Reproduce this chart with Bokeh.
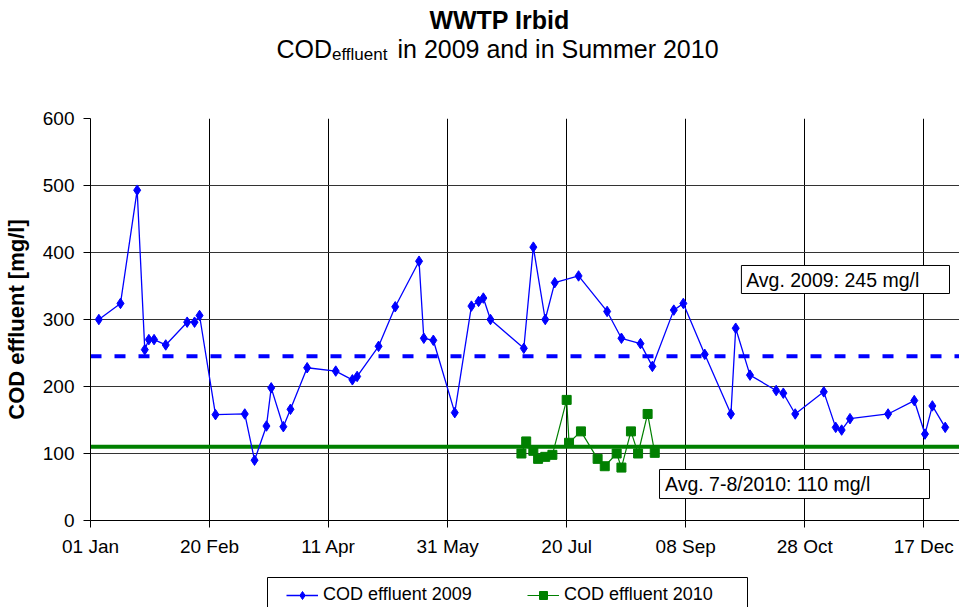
from bokeh.plotting import figure
from bokeh.layouts import column
from bokeh.models import (Range1d, FixedTicker, Label, Legend, LegendItem, Span,
                          BoxAnnotation)
from bokeh.embed import file_html
from bokeh.resources import INLINE

# ---------------- data ----------------
# day of year (0 = 01 Jan)
day_2009 = [3.5, 12.6, 19.6, 22.8, 24.5, 26.7, 31.6, 40.6, 43.7, 45.8, 52.5, 64.8,
            68.9, 73.9, 75.9, 81, 84, 91, 103, 110, 112, 121, 128, 138, 140, 144,
            153, 160, 163, 165, 168, 182, 186, 191, 195, 205, 217, 223, 231, 236,
            245, 249, 258, 269, 271, 277, 288, 291, 296, 308, 313, 315.5, 319, 335,
            346, 350.5, 353.6, 359]
cod_2009 = [300, 324, 493, 255, 270, 270, 262, 296, 296, 306, 158, 159,
            90, 141, 198, 140, 166, 228, 223, 210, 215, 260, 319, 387, 272, 269,
            161, 320, 327, 332, 300, 257, 408, 300, 355, 365, 312, 272, 264, 230,
            314, 324, 248, 159, 287, 217, 194, 190, 159, 192, 139, 135, 152, 159,
            179, 129, 171, 139]

day_2010 = [181, 183, 186, 188, 191, 194, 200, 201, 206, 213, 216, 221, 223,
            227, 230, 234, 237]
cod_2010 = [100, 118, 104, 92, 95, 98, 180, 116, 133, 92, 81, 100, 79,
            133, 100, 159, 101]

avg_2009 = 245
avg_2010 = 110

tick_days = [0, 50, 100, 150, 200, 250, 300, 350]
tick_labels = ["01 Jan", "20 Feb", "11 Apr", "31 May", "20 Jul", "08 Sep",
               "28 Oct", "17 Dec"]
y_ticks = [0, 100, 200, 300, 400, 500, 600]

FONT = "Liberation Sans"
BLUE = "#0000FF"
GREEN = "#008000"
W = 959
LEFT = 90
H_TITLE, H_MAIN, H_LEG = 103, 465, 39


def bare(fig):
    fig.outline_line_color = None
    fig.xgrid.visible = False
    fig.ygrid.visible = False
    fig.background_fill_color = "white"
    fig.border_fill_color = "white"
    fig.title.visible = False


def tlabel(fig, px, py, text, size, style="normal", align="left"):
    # px, py: page pixels from top-left; screen units are frame-relative
    # (x from the frame's left, y up from the frame's bottom)
    fig.add_layout(Label(x=px - LEFT, y=H_TITLE - py, x_units="screen",
                         y_units="screen", text=text, text_font=FONT,
                         text_font_size=size, text_font_style=style,
                         text_align=align, text_baseline="alphabetic",
                         text_color="black"))


# ---------------- title strip ----------------
pt = figure(width=W, height=H_TITLE, output_backend="svg", toolbar_location=None,
            x_range=Range1d(0, 1), y_range=Range1d(0, 1),
            x_axis_location=None, y_axis_location=None,
            min_border=0, min_border_left=LEFT, min_border_right=0,
            min_border_top=0, min_border_bottom=0)
bare(pt)
tlabel(pt, 499, 19, "WWTP Irbid", "25px", style="bold", align="center")
tlabel(pt, 276, 48, "COD", "25px")
tlabel(pt, 331.5, 54, "effluent", "17px")
tlabel(pt, 397, 48, "in 2009 and in Summer 2010", "25px")

# ---------------- main chart ----------------
p = figure(width=W, height=H_MAIN, output_backend="svg", toolbar_location=None,
           x_range=Range1d(0, 365), y_range=Range1d(0, 600),
           min_border_left=LEFT, min_border_right=0, min_border_top=15,
           min_border_bottom=48)
p.outline_line_color = None
p.background_fill_color = "white"
p.border_fill_color = "white"

p.xaxis.ticker = FixedTicker(ticks=tick_days)
p.xaxis.major_label_overrides = {d: l for d, l in zip(tick_days, tick_labels)}
p.yaxis.ticker = FixedTicker(ticks=y_ticks)
for ax in (p.xaxis[0], p.yaxis[0]):
    ax.axis_line_color = "black"
    ax.axis_line_width = 1
    ax.major_tick_line_color = "black"
    ax.major_tick_out = 7
    ax.major_tick_in = 0
    ax.minor_tick_line_color = None
    ax.major_label_text_font = FONT
    ax.major_label_text_font_size = "19px"
    ax.major_label_text_color = "black"
p.xaxis.major_label_standoff = 8
p.yaxis.major_label_standoff = 9
p.yaxis.axis_label = "COD effluent [mg/l]"
p.yaxis.axis_label_text_font = FONT
p.yaxis.axis_label_text_font_style = "bold"
p.yaxis.axis_label_text_font_size = "22px"
p.yaxis.axis_label_text_color = "black"
p.yaxis.axis_label_standoff = 11

p.xgrid.ticker = FixedTicker(ticks=tick_days)
p.ygrid.ticker = FixedTicker(ticks=y_ticks)
p.xgrid.grid_line_color = "black"
p.ygrid.grid_line_color = "#333333"
p.xgrid.grid_line_width = 1
p.ygrid.grid_line_width = 1

p.add_layout(Span(location=avg_2009, dimension="width", line_color=BLUE,
                  line_width=4, line_dash="11 13", level="underlay"))
p.add_layout(Span(location=avg_2010, dimension="width", line_color=GREEN,
                  line_width=4, level="underlay"))

p.line(day_2009, cod_2009, line_color=BLUE, line_width=1.3)
p.scatter(day_2009, cod_2009, marker="diamond", size=10.5,
          fill_color=BLUE, line_color=BLUE)
p.line(day_2010, cod_2010, line_color=GREEN, line_width=1.2)
p.scatter(day_2010, cod_2010, marker="square", size=9,
          fill_color=GREEN, line_color=GREEN)

p.add_layout(BoxAnnotation(left=273.4, right=360.8, bottom=338.8, top=380.6,
                           fill_color="white", fill_alpha=1, line_color="black",
                           line_alpha=1, line_width=1))
p.add_layout(BoxAnnotation(left=239, right=352.4, bottom=32.8, top=76.1,
                           fill_color="white", fill_alpha=1, line_color="black",
                           line_alpha=1, line_width=1))
p.add_layout(Label(x=275.4, y=359.7, text=f"Avg. 2009: {avg_2009} mg/l",
                   text_font=FONT, text_font_size="19.5px", text_baseline="middle",
                   text_align="left", text_color="black"))
p.add_layout(Label(x=241.3, y=54.5, text=f"Avg. 7-8/2010: {avg_2010} mg/l",
                   text_font=FONT, text_font_size="19.5px", text_baseline="middle",
                   text_align="left", text_color="black"))

# ---------------- legend strip ----------------
# the same series, drawn in a strip whose ranges keep them out of view,
# so that only their legend glyphs appear
pl = figure(width=W, height=H_LEG, output_backend="svg", toolbar_location=None,
            x_range=Range1d(-2, -1), y_range=Range1d(-2, -1),
            x_axis_location=None, y_axis_location=None,
            min_border=0, min_border_left=LEFT, min_border_right=0,
            min_border_top=0, min_border_bottom=0)
bare(pl)
k1 = pl.line(day_2009, cod_2009, line_color=BLUE, line_width=1.3)
m1 = pl.scatter(day_2009, cod_2009, marker="diamond", size=10.5,
                fill_color=BLUE, line_color=BLUE)
k2 = pl.line(day_2010, cod_2010, line_color=GREEN, line_width=1.2)
m2 = pl.scatter(day_2010, cod_2010, marker="square", size=9,
                fill_color=GREEN, line_color=GREEN)
# legend frame (page px 267..747, top at 577, bottom cut by the page edge)
pl.add_layout(BoxAnnotation(left=267 - LEFT, right=747 - LEFT, top=H_LEG - 9,
                            bottom=-6, left_units="screen", right_units="screen",
                            top_units="screen", bottom_units="screen",
                            fill_color="white", fill_alpha=1, line_color="black",
                            line_alpha=1, line_width=1))
legend = Legend(items=[LegendItem(label="COD effluent 2009", renderers=[k1, m1]),
                       LegendItem(label="COD effluent 2010", renderers=[k2, m2])],
                orientation="horizontal", location=(286 - LEFT, 2),
                label_text_font=FONT, label_text_font_size="18px",
                label_text_color="black", glyph_width=32, glyph_height=20,
                label_height=20, label_width=177,
                label_standoff=5, spacing=27, padding=6, margin=0,
                border_line_color=None, background_fill_alpha=0)
pl.add_layout(legend)

layout = column(pt, p, pl, spacing=0)
open("out.html", "w").write(file_html(layout, INLINE))
